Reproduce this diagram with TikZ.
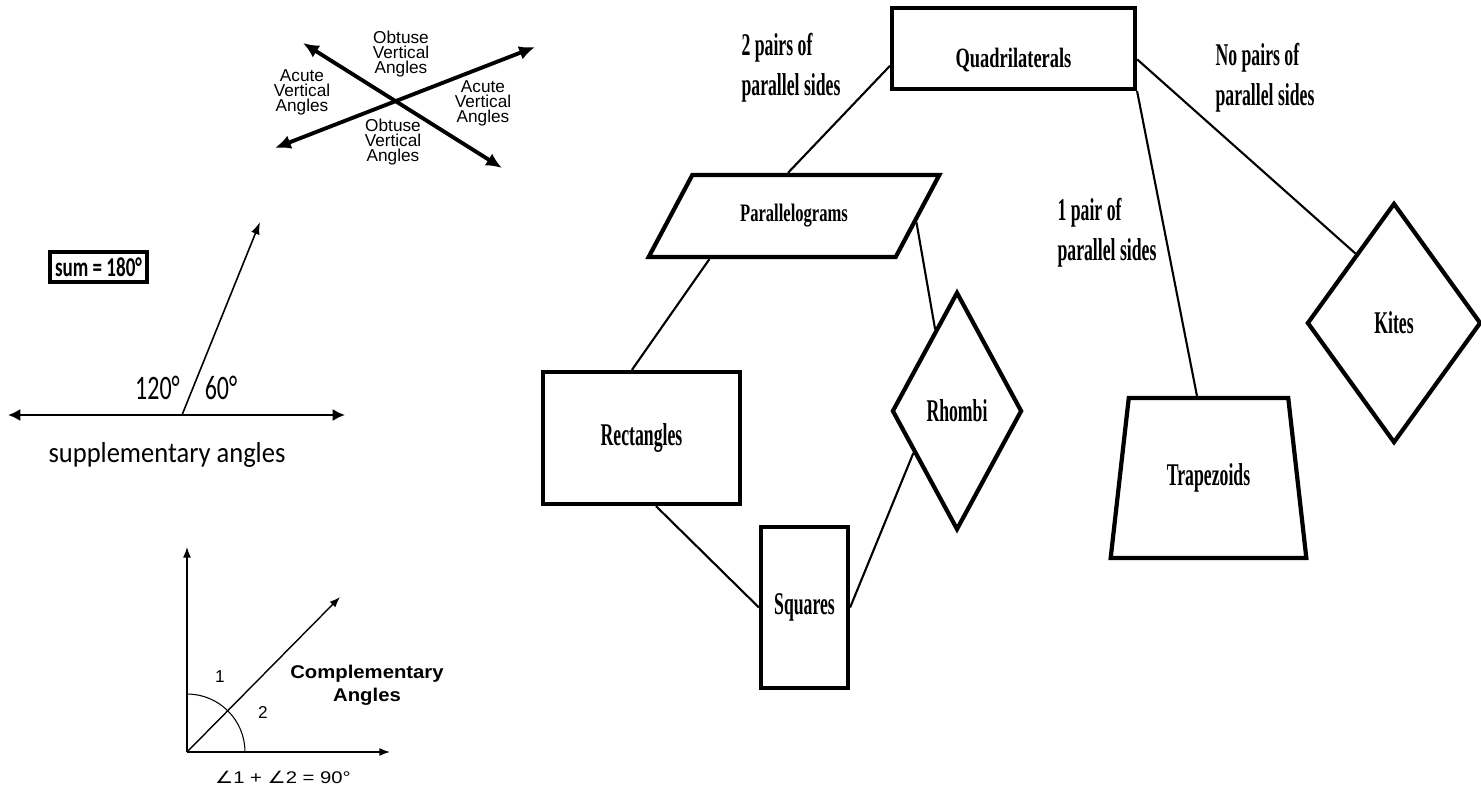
\documentclass[tikz,border=0pt]{standalone}
\usepackage{fontspec}
\setmainfont{Liberation Serif}
\newfontfamily\arialfont{Liberation Sans}
\newfontfamily\complfont[FakeStretch=1.1]{Liberation Sans}
\newfontfamily\eqfont[FakeStretch=1.2]{Liberation Sans}
\newfontfamily\eqsym[FakeStretch=1.2]{DejaVu Sans}
\newfontfamily\calfont[FakeStretch=0.92]{Carlito}
\newfontfamily\degfont[FakeStretch=0.7]{Carlito}
\newfontfamily\shapefont[FakeStretch=0.56]{Liberation Serif}
\newfontfamily\titlefont[FakeStretch=0.66]{Liberation Serif}
\usetikzlibrary{arrows,positioning,calc,arrows.meta,shapes.geometric}
\tikzset{>=Latex}
\tikzset{
  sbox/.style={draw,line width=2.4pt,inner sep=1pt,font=\shapefont\bfseries\fontsize{18}{20}\selectfont},
  link/.style={line width=1.2pt},
  elabel/.style={align=left,inner sep=0pt,font=\shapefont\bfseries\fontsize{18}{22.7}\selectfont},
  vlabel/.style={align=center,inner sep=0pt,font=\arialfont\fontsize{9.8}{8.6}\selectfont},
  vline/.style={{Latex[length=9pt,width=8pt]}-{Latex[length=9pt,width=8pt]},line width=2.2pt},
  hline/.style={{Latex[length=7pt,width=7pt]}-{Latex[length=7pt,width=7pt]},line width=1.6pt},
  ray/.style={-{Latex[length=7pt,width=5pt]},line width=0.9pt},
  axis/.style={-{Latex[length=6pt,width=4.5pt]},line width=0.8pt},
  numlabel/.style={inner sep=0pt,font=\arialfont\fontsize{9.8}{11}\selectfont}
}

\begin{document}
\begin{tikzpicture}[x=0.02cm,y=-0.02cm]
\useasboundingbox (0,0) rectangle (1481,793);

%% vertical angles
\begin{scope}
  \coordinate (vnw) at (303,43);
  \coordinate (vse) at (502,168);
  \coordinate (vsw) at (275,148);
  \coordinate (vne) at (535,47);
  \draw[vline] (vnw) -- (vse);
  \draw[vline] (vsw) -- (vne);
  \node[vlabel] at (401,54) (obtop) {Obtuse\\Vertical\\Angles};
  \node[vlabel] at (302,92) (acleft) {Acute\\Vertical\\Angles};
  \node[vlabel] at (483,103) (acright) {Acute\\Vertical\\Angles};
  \node[vlabel] at (393,142) (obbot) {Obtuse\\Vertical\\Angles};
\end{scope}

%% supplementary angles
\begin{scope}
  \coordinate (sleft) at (8,415);
  \coordinate (sright) at (345,415);
  \coordinate (sfoot) at (182,415);
  \coordinate (stip) at (260,222);
  \draw[hline] (sleft) -- (sright);
  \draw[ray] (sfoot) -- (stip);
  \node[draw,line width=1.8pt,inner sep=1pt,minimum width=1.94cm,minimum height=0.6cm,
        font=\degfont\bfseries\fontsize{15.5}{16}\selectfont] at (98.5,267) (sum) {sum = 180°};
  \node[inner sep=0pt,font=\degfont\fontsize{19.5}{20}\selectfont] at (157.5,388) (obt) {120°};
  \node[inner sep=0pt,font=\degfont\fontsize{19.5}{20}\selectfont] at (221,388) (acu) {60°};
  \node[inner sep=0pt,font=\calfont\fontsize{16.4}{18}\selectfont] at (167,455) (suptxt) {supplementary angles};
\end{scope}

%% complementary angles
\begin{scope}
  \coordinate (corig) at (187,752);
  \coordinate (cup) at (187,547);
  \coordinate (cright) at (390,752);
  \coordinate (cdiag) at (340,597);
  \draw[axis] (corig) -- (cup);
  \draw[axis] (corig) -- (cright);
  \draw[axis] (corig) -- (cdiag);
  \draw[line width=0.6pt] ([xshift=1.16cm]corig) arc[start angle=0,end angle=90,radius=1.16cm];
  \node[numlabel] at (220,677) (one) {1};
  \node[numlabel] at (263,712) (two) {2};
  \node[align=center,inner sep=0pt,font=\complfont\bfseries\fontsize{10.5}{13}\selectfont] at (367,685) (compl) {Complementary\\Angles};
  \node[inner sep=0pt,font=\eqfont\fontsize{9.6}{11}\selectfont] at (283,777) (csum) {{\eqsym ∠}1 + {\eqsym ∠}2 = 90°};
\end{scope}

%% quadrilateral family
\begin{scope}
  \node[sbox,minimum width=4.86cm,minimum height=1.62cm,text height=0.78cm,text depth=0pt,
        font=\titlefont\bfseries\fontsize{15.9}{18}\selectfont] at (1013.5,48.5) (quad) {Quadrilaterals};
  \node[sbox,trapezium,trapezium left angle=48,trapezium right angle=132,trapezium stretches=true,
        minimum width=5.84cm,minimum height=1.64cm,font=\titlefont\bfseries\fontsize{14.3}{16}\selectfont] at (794,216) (para) {Parallelograms};
  \node[sbox,minimum width=3.94cm,minimum height=2.64cm] at (641.5,438) (rect) {Rectangles};
  \node[sbox,minimum width=1.74cm,minimum height=3.22cm] at (804.5,607.5) (squares) {Squares};
  \node[sbox,diamond,minimum width=2.6cm,minimum height=4.76cm] at (957,411) (rhombi) {Rhombi};
  \node[sbox,trapezium,trapezium left angle=73,trapezium right angle=73,trapezium stretches=true,
        minimum width=3.94cm,minimum height=3.2cm] at (1208.5,478) (trap) {Trapezoids};
  \node[sbox,diamond,minimum width=3.48cm,minimum height=4.8cm] at (1394,323) (kite) {Kites};

  \draw[link] (quad.188) -- (para.98);
  \draw[link] (quad.-5) -- (kite.119);
  \draw[link] (quad.south east) -- (trap.98);
  \draw[link] (para.207) -- (rect.98);
  \draw[link] (para.-3) -- (rhombi.105);
  \draw[link] (rect.-78) -- (squares.west);
  \draw[link] (rhombi.224) -- (squares.east);

  \node[elabel] at (791,68) (lbltwo) {2 pairs of\\parallel sides};
  \node[elabel] at (1265,78) (lblnone) {No pairs of\\parallel sides};
  \node[elabel] at (1107,233) (lblone) {1 pair of\\parallel sides};
\end{scope}
\end{tikzpicture}
\end{document}
